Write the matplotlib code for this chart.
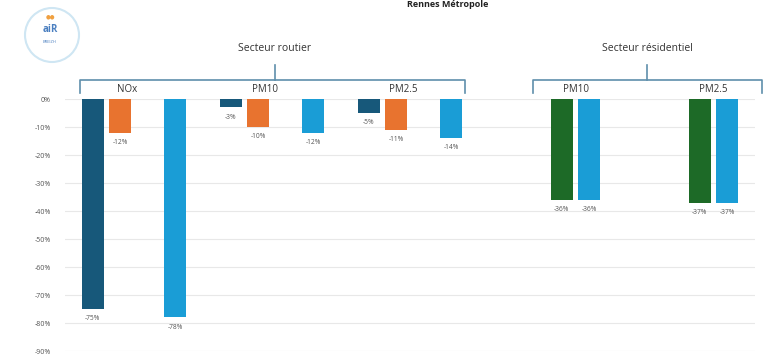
import numpy as np
import matplotlib.pyplot as plt
from matplotlib.patches import Ellipse

# categories (sector / pollutant) and series values (% change), nan = no bar
categories = ['NOx', 'PM10', 'PM2.5', 'PM10', 'PM2.5']
series_dark = [-75, -3, -5, np.nan, np.nan]
series_orange = [-12, -10, -11, np.nan, np.nan]
series_green = [np.nan, np.nan, np.nan, -36, -37]
series_light = [-78, -12, -14, -36, -37]
yticks = [0, -10, -20, -30, -40, -50, -60, -70, -80, -90]
sectors = ['Secteur routier', 'Secteur résidentiel']

colours = ['#17587a', '#e8732f', '#1d6a27', '#1a9dd6']
plt.rcParams['font.family'] = ['Open Sans', 'DejaVu Sans']

fig = plt.figure(figsize=(7.67, 3.56), dpi=100)
ax = fig.add_axes([65/767, 5/356, 690/767, 252/356])

x = np.arange(len(categories))
allseries = [series_dark, series_orange, series_green, series_light]
for k, s in enumerate(allseries):
    s = np.array(s, dtype=float)
    pos = x + (k - 1.5)*0.2
    ax.bar(pos, s, width=0.16, color=colours[k], zorder=3)
    for p, v in zip(pos, s):
        if not np.isnan(v):
            ax.text(p, v - 2.2, '%d%%' % v, ha='center', va='top', fontsize=4.8, color='#555555')

ax.set_xlim(-0.5, 4.5)
ax.set_ylim(-90, 0)
ax.set_yticks(yticks)
ax.set_yticklabels(['%d%%' % t for t in yticks], fontsize=5, color='#555555')
ax.tick_params(axis='y', length=0, pad=10)
ax.set_xticks([])
ax.grid(axis='y', color='#e8e8e8', lw=0.8, zorder=0)
for sp in ax.spines.values():
    sp.set_visible(False)

# category labels over the bars that exist
for i, c in enumerate(categories):
    offs = [(k - 1.5)*0.2 for k, s in enumerate(allseries) if not np.isnan(s[i])]
    cx = i + (min(offs) + max(offs))/2
    ax.text(cx - 0.05 if i < 3 else cx, 1.6, c, ha='center', va='bottom', fontsize=7, color='#333333', clip_on=False)

# brackets
bc = '#5f8fab'
for (x0, x1, xm), name in zip([(-0.39, 2.40, 1.02), (2.89, 4.55, 3.72)], sectors):
    ax.plot([x0, x0, x1, x1], [2.1, 6.8, 6.8, 2.1], color=bc, lw=1.2, clip_on=False)
    ax.plot([xm, xm], [6.8, 12.0], color=bc, lw=1.2, clip_on=False)
    ax.text(xm, 16.0, name, ha='center', va='bottom', fontsize=7.5, color='#333333', clip_on=False)

fig.text(448/767, 1.0, 'Rennes Métropole', ha='center', va='top', fontsize=6.5, fontweight='bold', color='#222222')

# logo
fig.add_artist(Ellipse((52/767, 1 - 35/356), 54/767, 54/356, transform=fig.transFigure,
                       fill=False, ec='#cfe6f3', lw=1.5))
fig.text(50/767, 1 - 30/356, 'aiR', ha='center', va='center', fontsize=7, fontweight='bold', color='#4a7fc0')
fig.text(50/767, 1 - 42/356, 'BREIZH', ha='center', va='center', fontsize=3, color='#4a7fc0')
fig.text(50/767, 1 - 17/356, '●●', ha='center', va='center', fontsize=4, color='#f0a040')

fig.savefig('out.png', dpi=100)
